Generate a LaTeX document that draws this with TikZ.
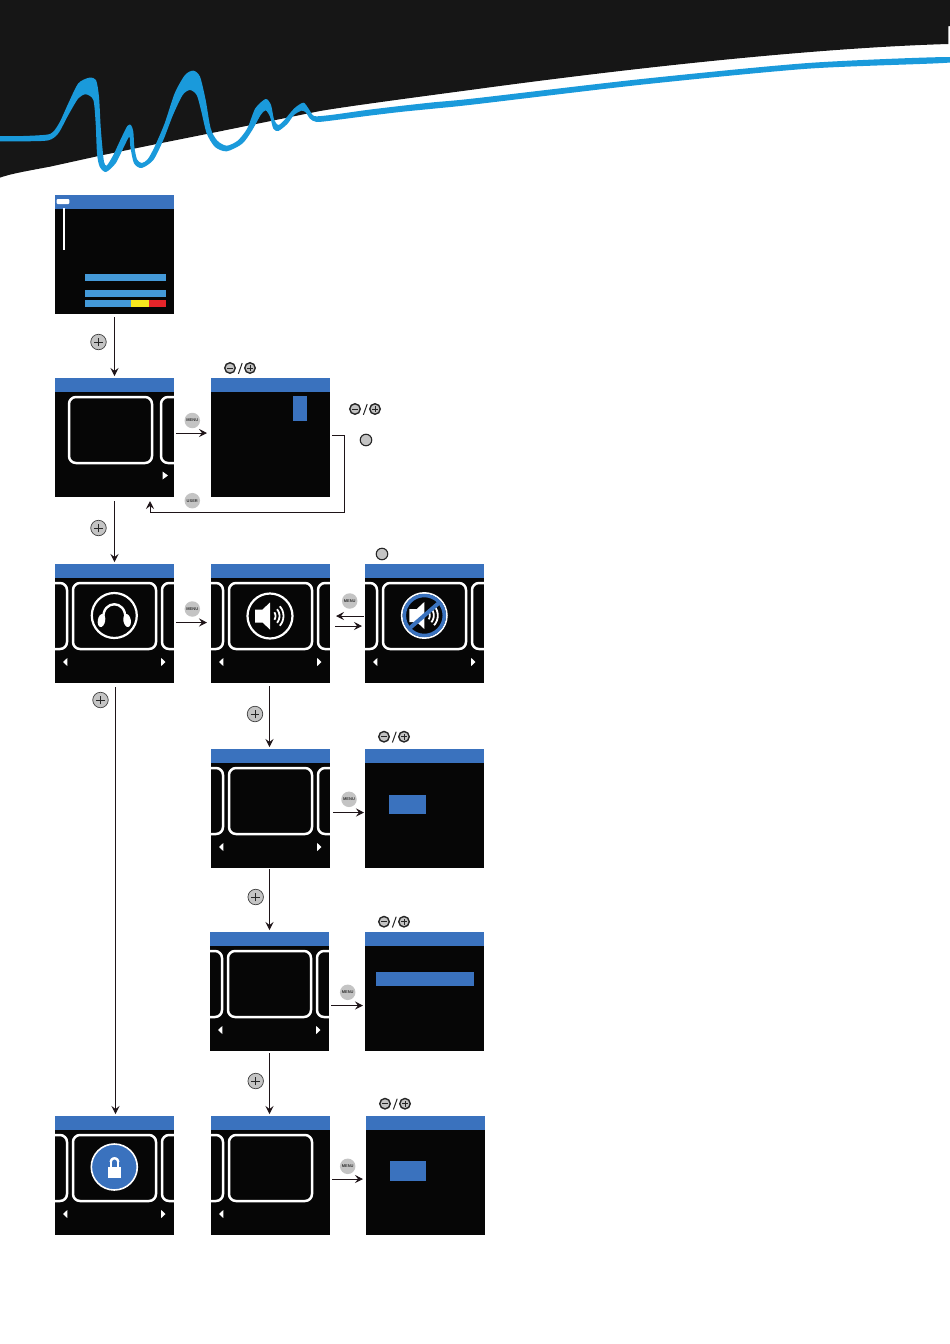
\documentclass[tikz,border=0pt]{standalone}
\usepackage{fontspec}
\setmainfont{Liberation Sans}
\usetikzlibrary{arrows.meta}
\definecolor{band}{HTML}{161616}
\definecolor{wave}{HTML}{1A9ADB}
\definecolor{scrblack}{HTML}{060606}
\definecolor{hdr}{HTML}{3A72BE}
\definecolor{barblue}{HTML}{4499D8}
\definecolor{baryellow}{HTML}{F7E71E}
\definecolor{barred}{HTML}{E5252A}
\definecolor{btngray}{HTML}{C4C4C4}
\definecolor{conn}{HTML}{1E1418}
\tikzset{
  screen/.style={rectangle,fill=scrblack,inner sep=0pt,minimum width=119pt,minimum height=119pt,anchor=north west,outer sep=0pt},
  frameline/.style={draw=white,line width=2.5pt,rounded corners=7pt},
  link/.style={draw=conn,line width=1pt,-{Stealth[length=8pt,width=8pt,inset=3pt]}},
  plusbtn/.style={circle,fill=btngray,draw=black!75,line width=0.7pt,minimum size=15.5pt,inner sep=0pt},
  smallbtn/.style={circle,fill=btngray,draw=black!85,line width=1.4pt,minimum size=10.5pt,inner sep=0pt},
  plainbtn/.style={circle,fill=btngray,draw=black!85,line width=1.1pt,minimum size=11.5pt,inner sep=0pt},
  labelbtn/.style={circle,fill=btngray,minimum size=15.5pt,inner sep=0pt,font=\fontsize{4}{4}\selectfont\bfseries,text=black!80},
}
\newcommand\scr[3]{\node[screen] (#1) at (#2,#3) {};\fill[hdr] (#2,#3) rectangle ++(119,13.5);}
\newcommand\centerframe[4]{\draw[frameline,shift={(#1,#2)}] (#3,19) rectangle (#4,85);}
\newcommand\sideL[2]{\begin{scope}[shift={(#1,#2)}]\clip (0,0) rectangle (119,119);\draw[frameline] (-30,19) rectangle (12,85);\end{scope}}
\newcommand\sideR[3][107]{\begin{scope}[shift={(#2,#3)}]\clip (0,0) rectangle (119,119);\draw[frameline] (#1,19) rectangle (150,85);\end{scope}}
\newcommand\arrL[2]{\fill[white,shift={(#1,#2)}] (8,98) -- (12.3,94) -- (12.3,102) -- cycle;}
\newcommand\arrR[2]{\fill[white,shift={(#1,#2)}] (110.5,98) -- (106.2,94) -- (106.2,102) -- cycle;}
\newcommand\stdscr[3]{\scr{#1}{#2}{#3}\sideL{#2}{#3}\centerframe{#2}{#3}{18}{101}\sideR{#2}{#3}\arrL{#2}{#3}\arrR{#2}{#3}}
\newcommand\plusmark[2]{\draw[black!85,line width=0.7pt] ([xshift=-#2pt]#1.center) -- ([xshift=#2pt]#1.center) ([yshift=-#2pt]#1.center) -- ([yshift=#2pt]#1.center);}
\newcommand\minusmark[2]{\draw[black!85,line width=0.8pt] ([xshift=-#2pt]#1.center) -- ([xshift=#2pt]#1.center);}
\newcommand\plusbutton[3]{\node[plusbtn] (#1) at (#2,#3) {};\plusmark{#1}{4.4}}
\newcommand\pairbtn[3]{\node[smallbtn] (#1m) at (#2,#3) {};\minusmark{#1m}{2.6}
  \node[smallbtn] (#1p) at ({#2+20},#3) {};\plusmark{#1p}{2.8}
  \coordinate (#1a) at ({#2+8.4},{#3+5.8});\coordinate (#1b) at ({#2+12.2},{#3-5});
  \draw[black!85,line width=1pt] (#1a) -- (#1b);}
\newcommand\speaker{\fill[white] (-15,-6.5) -- (-7.5,-6.5) -- (0,-13.5) -- (0,13.5) -- (-7.5,6.5) -- (-15,6.5) -- cycle;
  \draw[white,line width=1.8pt] plot[smooth,domain=-35:35,samples=9] ({-1+6.5*cos(\x)},{6.5*sin(\x)});
  \draw[white,line width=1.8pt] plot[smooth,domain=-40:40,samples=9] ({-1+10.5*cos(\x)},{10.5*sin(\x)});
  \draw[white,line width=1.8pt] plot[smooth,domain=-42:42,samples=9] ({-1+14.5*cos(\x)},{14.5*sin(\x)});}
\begin{document}
\begin{tikzpicture}[x=1pt,y=-1pt]
\useasboundingbox (0,0) rectangle (950,1344);
% ---- header band
\begin{scope}[x=0.33333pt,y=-0.33333pt]
\fill[band] (0,0) -- (2850,0) -- (2850,78) -- (2845,78) -- (2845,132)
  .. controls (2500,142) and (2000,190) .. (1425,268)
  .. controls (1200,298) and (1000,325) .. (950,335)
  -- (640,398) -- (470,432) -- (300,467) -- (150,500) .. controls (70,515) and (30,522) .. (0,533) -- cycle;
\fill[wave] plot[smooth,tension=0.45] coordinates {
 (0,408) (70,408) (140,404) (160,395) (180,365) (205,310) (235,250) (268,233) (288,240) (297,290) (302,380) (307,440) (312,485) (320,497)
 (340,465) (362,418) (382,378) (393,375) (400,395) (403,440) (411,478) (425,489) (443,478) (464,440) (494,370) (524,280) (555,225) (580,212) (600,230) (617,300) (632,385) (652,422) (680,437) (713,422) (742,385) (766,325) (797,297) (813,315) (822,358) (835,375) (853,360) (883,325) (910,308) (925,325) (938,345) (950,349) (1000,344) (1100,330) (1200,318) (1300,307) (1425,295) (1925,237) (2425,189) (2845,171)
 (2845,188) (2425,206) (1925,254) (1425,313) (1300,326) (1200,336) (1100,348) (1000,361) (950,366) (930,356) (918,338) (905,332) (882,345) (862,372) (835,393) (820,386) (810,350) (797,331) (782,345) (757,390) (727,431) (680,454) (645,441) (620,400) (603,330) (590,285) (570,270) (548,285) (519,345) (490,420) (460,480) (425,504) (402,490) (391,440) (388,410) (372,440) (347,490) (318,516) (299,500) (291,460) (287,370) (280,300) (258,283) (235,295) (205,345) (175,400) (145,421) (70,424) (0,424)};
\end{scope}
% ---- S1
\scr{S1}{55}{195}
\fill[white,rounded corners=1pt] (56.7,199) rectangle (69.3,204);
\fill[white] (63.3,207.7) rectangle (65,250);
\fill[barblue] (84.7,273.7) rectangle (166,280.7);
\fill[barblue] (84.7,290) rectangle (166,297.3);
\fill[barblue] (84.7,300.3) rectangle (131,307.3);
\fill[baryellow] (131,300.3) rectangle (149,307.3);
\fill[barred] (149,300.3) rectangle (166,307.3);
% ---- S2
\scr{S2}{55}{378}
\centerframe{55}{378}{14}{97}
\sideR[106]{55}{378}
\fill[white] (168,475.5) -- (162.5,471.5) -- (162.5,479.5) -- cycle;
% ---- S3
\scr{S3}{211}{378}
\fill[hdr] (292.7,396) rectangle (307,421.3);
% ---- S4 headphones
\stdscr{S4}{55}{564}
\begin{scope}[shift={(114.3,615.5)}]
\draw[white,line width=2.2pt] (0,0) circle[radius=22.5];
\draw[white,line width=2.4pt] (-11,3) .. controls (-12,-16) and (12,-16) .. (11,3);
\fill[white,rotate around={-10:(-12.8,5)}] (-12.8,5) ellipse[x radius=3.7,y radius=6.6];
\fill[white,rotate around={10:(12.8,5)}] (12.8,5) ellipse[x radius=3.7,y radius=6.6];
\end{scope}
% ---- S5 speaker
\stdscr{S5}{211}{564}
\begin{scope}[shift={(270,616)}]
\draw[white,line width=2.2pt] (0,0) circle[radius=22.5];
\speaker
\end{scope}
% ---- S6 muted
\stdscr{S6}{365}{564}
\begin{scope}[shift={(424.3,615.5)}]
\speaker
\draw[white,line width=1.7pt] (0,0) circle[radius=22.6];
\draw[hdr,line width=3.5pt] (0,0) circle[radius=20];
\draw[hdr,line width=4pt] (-15,13) -- (15,-13);
\end{scope}
% ---- S7, S8
\stdscr{S7}{211}{749}
\scr{S8}{365}{749}
\fill[hdr] (389.3,795.3) rectangle (426,814);
% ---- S9, S10
\stdscr{S9}{210}{932}
\scr{S10}{365}{932}
\fill[hdr] (375.7,971.7) rectangle (474,985.7);
% ---- S11 lock
\stdscr{S11}{55}{1116}
\begin{scope}[shift={(114.3,1167)}]
\draw[white,fill=hdr,line width=1.6pt] (0,0) circle[radius=23];
\draw[white,line width=2.4pt] plot[smooth,domain=180:360,samples=9] ({0.2+3.7*cos(\x)},{-5+3.7*sin(\x)});
\draw[white,line width=2.4pt] (-3.5,-5) -- (-3.5,1) (3.9,-5) -- (3.9,1);
\fill[white] (-6,-0.5) rectangle (6.5,10.5);
\end{scope}
% ---- S12, S13
\scr{S12}{211}{1116}
\sideL{211}{1116}
\centerframe{211}{1116}{18}{101}
\arrL{211}{1116}
\scr{S13}{366}{1116}
\fill[hdr] (390,1161.3) rectangle (426.3,1180.7);
% ---- buttons
\plusbutton{p1}{98.5}{342}
\plusbutton{p2}{98.5}{528}
\plusbutton{p3}{100.5}{700}
\plusbutton{p4}{255}{714}
\plusbutton{p5}{255.7}{897}
\plusbutton{p6}{255.7}{1081}
\pairbtn{q1}{230}{368}
\pairbtn{q2}{355}{409}
\pairbtn{q3}{384}{736.7}
\pairbtn{q4}{384}{921.7}
\pairbtn{q5}{385}{1103.7}
\node[plainbtn] (c1) at (366,440) {};
\node[plainbtn] (c2) at (382,554) {};
\node[labelbtn] (m1) at (192.3,420.5) {MENU};
\node[labelbtn] (u1) at (192.3,500.7) {USER};
\node[labelbtn] (m2) at (192.3,609) {MENU};
\node[labelbtn] (m3) at (349.7,601) {MENU};
\node[labelbtn] (m4) at (349,799.3) {MENU};
\node[labelbtn] (m5) at (347.7,992.3) {MENU};
\node[labelbtn] (m6) at (347.7,1166.3) {MENU};
% ---- connectors
\draw[link,shorten <=3pt,shorten >=2pt] (S1.south) -- (S2.north);
\draw[link,shorten <=4pt,shorten >=2pt] (S2.south) -- (S4.north);
\draw[link,shorten <=4pt,shorten >=2pt] ([xshift=1pt]S4.south) -- ([xshift=1pt]S11.north);
\draw[link,shorten <=3pt,shorten >=2pt] ([xshift=-1pt]S5.south) -- ([xshift=-1pt]S7.north);
\draw[link,shorten <=1pt,shorten >=2pt] ([xshift=-1pt]S7.south) -- (S9.north);
\draw[link,shorten <=2pt,shorten >=2pt] (S9.south) -- ([xshift=-1pt]S12.north);
\draw[link,shorten <=2pt,shorten >=4pt] ([yshift=4.5pt]S2.east) -- ([yshift=4.5pt]S3.west);
\draw[link,shorten <=2pt,shorten >=4pt] ([yshift=1pt]S4.east) -- ([yshift=1pt]S5.west);
\draw[link,shorten <=1pt,shorten >=6pt] ([yshift=7.5pt]S6.west) -- ([yshift=7.5pt]S5.east);
\draw[link,shorten <=5pt,shorten >=3pt] ([yshift=-2.5pt]S5.east) -- ([yshift=-2.5pt]S6.west);
\draw[link,shorten <=3pt,shorten >=1pt] ([yshift=-4pt]S7.east) -- ([yshift=-4pt]S8.west);
\draw[link,shorten <=2pt,shorten >=2pt] ([yshift=-14pt]S9.east) -- ([yshift=-14pt]S10.west);
\draw[link,shorten <=2pt,shorten >=3pt] ([yshift=-3.5pt]S12.east) -- ([yshift=-3.5pt]S13.west);
\coordinate (r1) at (344,435.5);
\coordinate (r2) at (344,512.7);
\coordinate (r3) at (150,512.7);
\coordinate (r4) at (150,501);
\draw[link,shorten <=2pt] (S3.east |- r1) -- (r1) -- (r2) -- (r3) -- (r4);
\end{tikzpicture}
\end{document}
